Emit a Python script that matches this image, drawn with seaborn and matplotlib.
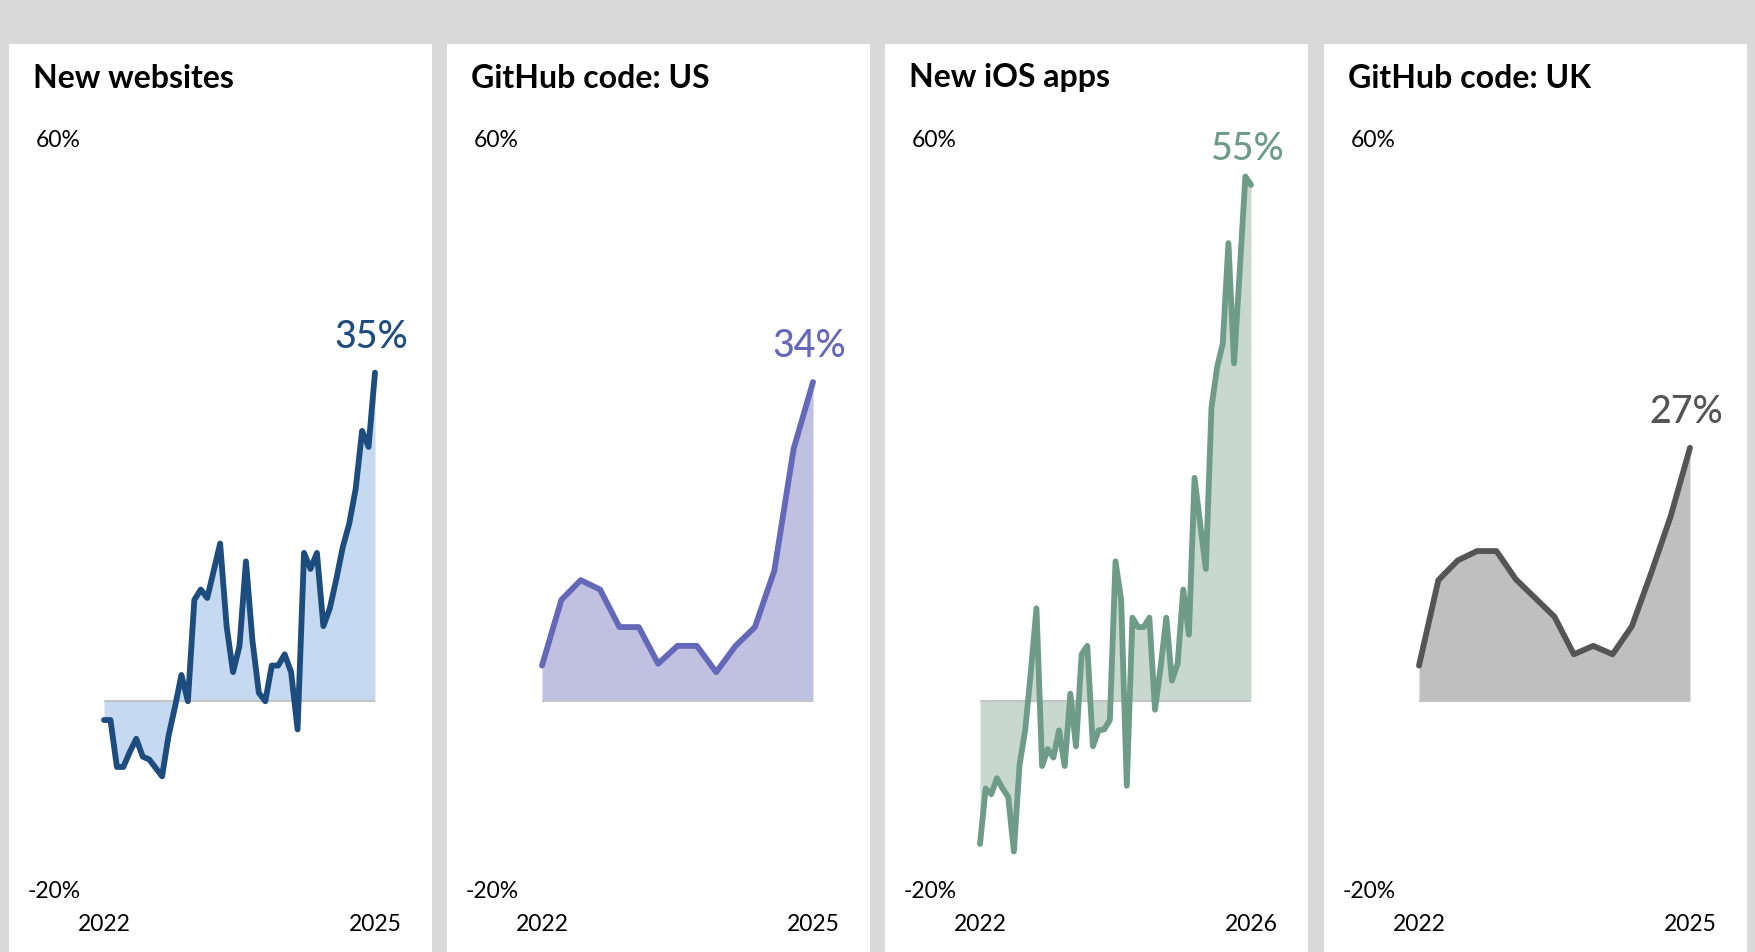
import pandas as pd
import matplotlib.pyplot as plt
import seaborn as sns
from matplotlib.patches import Rectangle

sns.set_theme(style="white")
plt.rcParams['font.family'] = ['Lato', 'DejaVu Sans']

# panel titles, colours and end labels
titles = ['New websites', 'GitHub code: US', 'New iOS apps', 'GitHub code: UK']
line_colors = ['#1d4c7e', '#6468b8', '#6e9c88', '#555555']
fill_colors = ['#c5daf1', '#c0c1e1', '#c8d8cf', '#bfbfbf']
end_labels = ['35%', '34%', '55%', '27%']
year_labels = [('2022', '2025'), ('2022', '2025'), ('2022', '2026'), ('2022', '2025')]

# series values (% change)
new_websites = [-2.0, -2.0, -7.0, -7.0, -5.4, -4.0, -5.9, -6.2, -7.1, -8.0, -3.7,
                -0.6, 2.8, 0.0, 10.8, 11.9, 11.0, 13.9, 16.8, 8.0, 3.1, 5.9, 14.9,
                6.5, 0.9, 0.0, 3.8, 3.8, 5.0, 3.1, -3.0, 15.8, 14.1, 15.8, 8.0, 9.9,
                13.0, 16.4, 18.9, 22.6, 28.8, 27.1, 35.0]
github_us = [3.8, 10.8, 12.9, 11.9, 7.9, 7.9, 4.0, 5.9, 5.9, 3.1, 5.9, 7.9, 13.9,
             26.9, 34.0]
new_ios = [-15.2, -9.3, -9.9, -8.2, -9.3, -10.2, -16.0, -6.8, -3.1, 3.1, 9.9, -6.9,
           -5.1, -6.0, -3.1, -6.9, 0.8, -4.8, 5.0, 5.9, -4.8, -3.1, -3.0, -2.0, 14.9,
           10.8, -9.0, 8.9, 7.9, 7.9, 8.9, -0.9, 3.7, 8.9, 2.2, 4.0, 11.9, 7.1, 23.8,
           18.9, 14.1, 31.3, 35.6, 38.1, 48.8, 36.0, 45.8, 55.9, 55.0]
github_uk = [3.8, 12.9, 15.0, 16.0, 16.0, 13.0, 11.0, 9.0, 5.0, 5.9, 5.0, 8.0, 13.7,
             19.7, 27.0]
series = [new_websites, github_us, new_ios, github_uk]

W, H = 1756, 953
fig = plt.figure(figsize=(W / 100, H / 100), dpi=100)
fig.patch.set_facecolor('#d9d9d9')

panel_left = [9, 447, 885, 1324]
panel_w = 423
panel_top = 45

for i in range(4):
    L = panel_left[i]
    fig.patches.append(Rectangle((L / W, 0), panel_w / W, (H - panel_top) / H,
                                 transform=fig.transFigure, facecolor='white',
                                 edgecolor='none', zorder=-5))
    fig.text((L + 24) / W, 1 - 78 / H, titles[i], fontsize=23, fontweight='bold',
             ha='left', va='center', color='black')

    ax = fig.add_axes([(L + 95) / W, 63 / H, 271 / W, 751 / H])
    ax.set_zorder(2)
    ax.patch.set_alpha(0)
    df = pd.DataFrame({'t': range(len(series[i])), 'v': series[i]})
    n = len(df)

    ax.fill_between(df['t'], df['v'], 0, color=fill_colors[i], lw=0, zorder=1)
    ax.axhline(0, color='#c4c4c4', lw=1.5, zorder=2)
    sns.lineplot(data=df, x='t', y='v', ax=ax, color=line_colors[i], lw=4.2,
                 zorder=3, clip_on=False)

    ax.annotate(end_labels[i], (df['t'].iloc[-1], df['v'].iloc[-1]),
                xytext=(-3, 26), textcoords='offset points', ha='center',
                va='center', fontsize=27, fontweight='medium', color=line_colors[i])

    ax.set_xlim(0, n - 1)
    ax.set_ylim(-20, 60)
    ax.set_xticks([0, n - 1], list(year_labels[i]))
    ax.set_yticks([-20, 60], ['-20%', '60%'])
    ax.tick_params(axis='both', length=0, labelsize=16.5, colors='black')
    ax.tick_params(axis='y', pad=17)
    ax.tick_params(axis='x', pad=17)
    ax.set_xlabel('')
    ax.set_ylabel('')
    sns.despine(ax=ax, left=True, bottom=True)

fig.savefig('out.png', dpi=100, facecolor=fig.get_facecolor())
